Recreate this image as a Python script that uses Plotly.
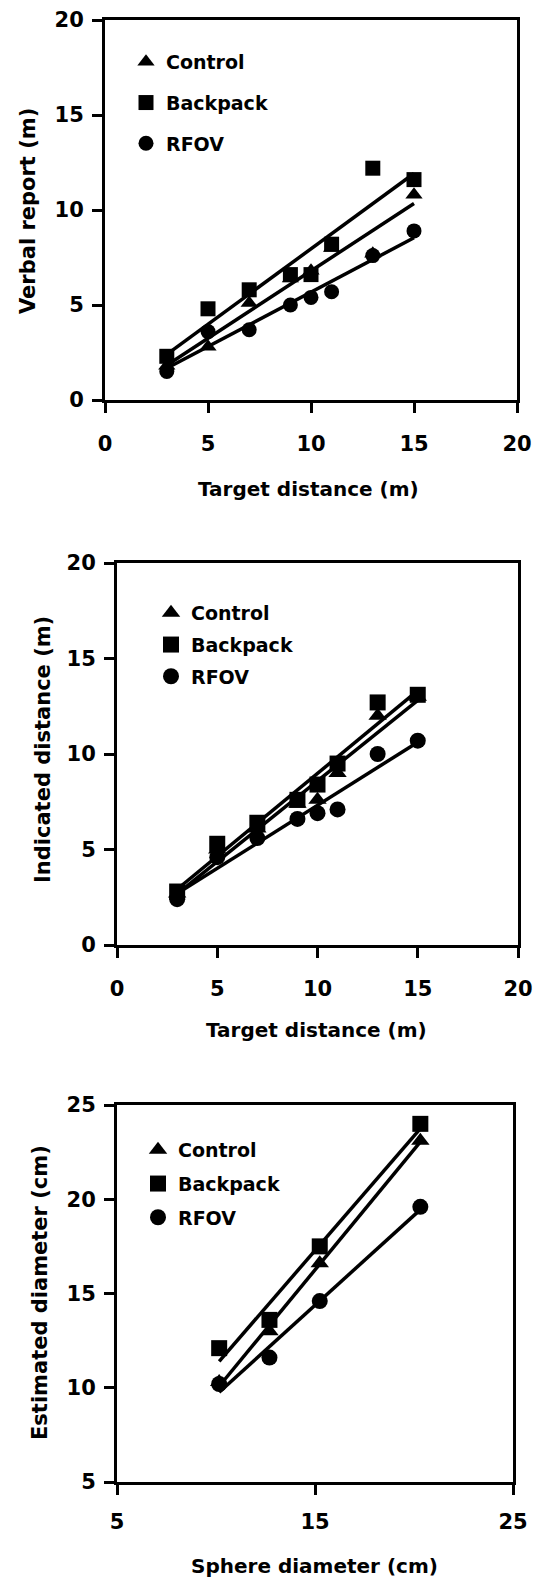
import numpy as np
import plotly.graph_objects as go

# ---------------- data ----------------
series_names = ["Control", "Backpack", "RFOV"]

# Panel 1: verbal report
p1_x = [3, 5, 7, 9, 10, 11, 13, 15]
p1_control = [1.8, 2.8, 5.1, 6.4, 6.8, 8.0, 7.7, 10.8]
p1_backpack = [2.3, 4.8, 5.8, 6.6, 6.6, 8.2, 12.2, 11.6]
p1_rfov = [1.5, 3.6, 3.7, 5.0, 5.4, 5.7, 7.6, 8.9]

# Panel 2: indicated distance
p2_x = [3, 5, 7, 9, 10, 11, 13, 15]
p2_control = [2.7, 5.0, 6.1, 7.4, 7.6, 9.0, 12.0, 13.0]
p2_backpack = [2.8, 5.3, 6.4, 7.6, 8.4, 9.5, 12.7, 13.1]
p2_rfov = [2.4, 4.6, 5.6, 6.6, 6.9, 7.1, 10.0, 10.7]

# Panel 3: estimated sphere diameter
p3_x = [10.16, 12.7, 15.24, 20.32]
p3_control = [10.3, 13.0, 16.6, 23.1]
p3_backpack = [12.1, 13.6, 17.5, 24.0]
p3_rfov = [10.2, 11.6, 14.6, 19.6]

p1_ticks = [0, 5, 10, 15, 20]
p2_ticks = [0, 5, 10, 15, 20]
p3_xticks = [5, 15, 25]
p3_yticks = [5, 10, 15, 20, 25]

titles = {
    "p1x": "Target distance (m)", "p1y": "Verbal report (m)",
    "p2x": "Target distance (m)", "p2y": "Indicated distance (m)",
    "p3x": "Sphere diameter (cm)", "p3y": "Estimated diameter (cm)",
}

# ---------------- figure ----------------
W, H = 539, 1582
FONT = "DejaVu Sans, Arial, sans-serif"
symbols = {"Control": "triangle-up", "Backpack": "square", "RFOV": "circle"}

fig = go.Figure()

panels = [
    (p1_x, {"Control": p1_control, "Backpack": p1_backpack, "RFOV": p1_rfov}, "x", "y", "legend", 15),
    (p2_x, {"Control": p2_control, "Backpack": p2_backpack, "RFOV": p2_rfov}, "x2", "y2", "legend2", 16),
    (p3_x, {"Control": p3_control, "Backpack": p3_backpack, "RFOV": p3_rfov}, "x3", "y3", "legend3", 16),
]

for xs, data, xa, ya, lg, msize in panels:
    xs_arr = np.array(xs, dtype=float)
    # regression lines
    for name in series_names:
        ys = np.array(data[name], dtype=float)
        k, b = np.polyfit(xs_arr, ys, 1)
        xl = np.array([xs_arr.min(), xs_arr.max()])
        fig.add_trace(go.Scatter(
            x=xl, y=k * xl + b, mode="lines",
            line=dict(color="black", width=3.5),
            xaxis=xa, yaxis=ya, showlegend=False, hoverinfo="skip"))
    # markers
    for name in series_names:
        fig.add_trace(go.Scatter(
            x=xs, y=data[name], mode="markers", name=name,
            marker=dict(symbol=symbols[name], size=msize, color="black",
                        line=dict(width=0)),
            xaxis=xa, yaxis=ya, legend=lg, legendgroup=lg + name))

def px_x(p):
    return p / W

def px_y(p):
    return 1 - p / H

axis_common = dict(
    showline=True, linecolor="black", linewidth=3, mirror=True,
    ticks="outside", ticklen=10, tickwidth=3, tickcolor="black",
    showgrid=False, zeroline=False, automargin=False,
    ticklabeloverflow="allow",
    tickfont=dict(family=FONT, size=21, color="black", weight="bold"),
)

legend_font = dict(family=FONT, size=19, color="black", weight="bold")

fig.update_layout(
    width=W, height=H,
    margin=dict(l=0, r=0, t=0, b=0),
    paper_bgcolor="white", plot_bgcolor="white",
    font=dict(family=FONT, color="black"),
    # panel 1
    xaxis=dict(domain=[px_x(105), px_x(517)], range=[0, 20], tickvals=p1_ticks,
               anchor="y", ticklabelstandoff=13, **axis_common),
    yaxis=dict(domain=[px_y(400), px_y(20)], range=[0, 20], tickvals=p1_ticks,
               anchor="x", ticklabelstandoff=4, **axis_common),
    # panel 2
    xaxis2=dict(domain=[px_x(117), px_x(518)], range=[0, 20], tickvals=p2_ticks,
                anchor="y2", ticklabelstandoff=13, **axis_common),
    yaxis2=dict(domain=[px_y(945), px_y(563)], range=[0, 20], tickvals=p2_ticks,
                anchor="x2", ticklabelstandoff=4, **axis_common),
    # panel 3
    xaxis3=dict(domain=[px_x(117), px_x(513)], range=[5, 25], tickvals=p3_xticks,
                anchor="y3", ticklabelstandoff=9, **axis_common),
    yaxis3=dict(domain=[px_y(1482), px_y(1105)], range=[5, 25], tickvals=p3_yticks,
                anchor="x3", ticklabelstandoff=4, **axis_common),
    legend=dict(x=px_x(126), y=px_y(43), xanchor="left", yanchor="top",
                bgcolor="rgba(0,0,0,0)", traceorder="grouped", tracegroupgap=13,
                font=legend_font),
    legend2=dict(x=px_x(151), y=px_y(594), xanchor="left", yanchor="top",
                 bgcolor="rgba(0,0,0,0)", traceorder="grouped", tracegroupgap=4,
                 font=legend_font),
    legend3=dict(x=px_x(138), y=px_y(1131), xanchor="left", yanchor="top",
                 bgcolor="rgba(0,0,0,0)", traceorder="grouped", tracegroupgap=6,
                 font=legend_font),
)

annots = [
    (titles["p1x"], 308, 489, 0, 20), (titles["p1y"], 28, 211, -90, 21),
    (titles["p2x"], 316, 1030, 0, 20), (titles["p2y"], 43, 750, -90, 21),
    (titles["p3x"], 314, 1566, 0, 20), (titles["p3y"], 40, 1293, -90, 21),
]
for text, cx, cy, ang, fs in annots:
    fig.add_annotation(text=text, x=px_x(cx), y=px_y(cy), xref="paper", yref="paper",
                       xanchor="center", yanchor="middle", showarrow=False,
                       textangle=ang,
                       font=dict(family=FONT, size=fs, color="black", weight="bold"))

fig.write_html(
    "out.html",
    config={"displayModeBar": False},
    post_script="document.body.style.margin='0';document.body.style.overflow='hidden';",
)
